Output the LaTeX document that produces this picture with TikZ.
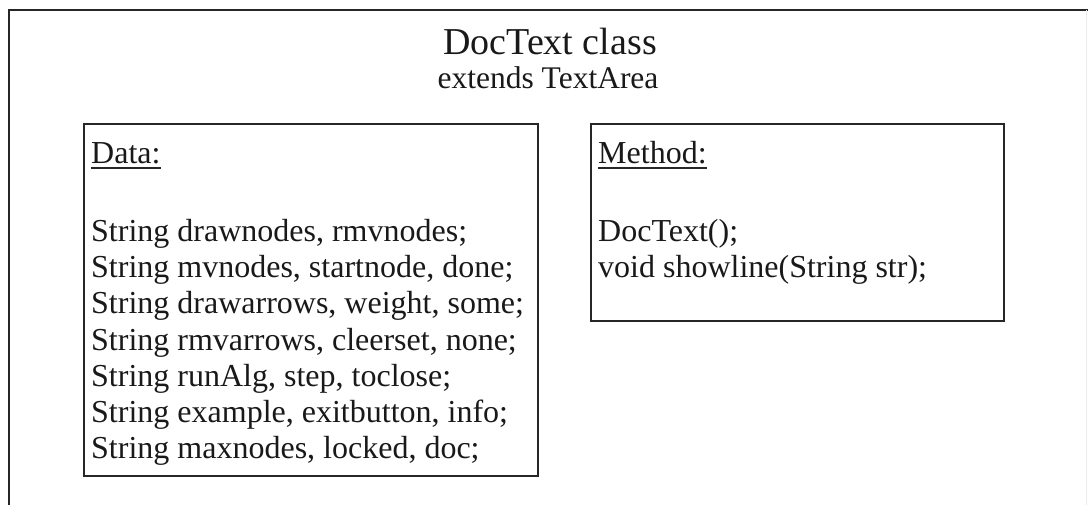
\documentclass[tikz,border=0pt]{standalone}
\usepackage{fontspec}
\setmainfont{Liberation Serif}
\begin{document}
\begin{tikzpicture}[x=1pt,y=-1pt,
  frame/.style={line width=1.6pt, draw=black!85},
  classbox/.style={draw=black!85, line width=1.6pt, rectangle, inner sep=0pt, anchor=north west},
  body/.style={font=\fontsize{32}{36}\selectfont, inner sep=0pt, anchor=base west, text=black!90},
  uline/.style={line width=1.3pt, draw=black!85}]

  % page extent
  \useasboundingbox (0,0) rectangle (1088,505);

  % outer frame of the class (bottom open)
  \draw[frame] (1088,10) -- (9,10) -- (9,505);
  \draw[black!8, line width=0.8pt] (1086.5,10) -- (1086.5,505);

  % heading
  \node[font=\fontsize{38}{40}\selectfont, inner sep=0pt, anchor=base, text=black!90] (title) at (550,55) {DocText class};
  \node[font=\fontsize{31.5}{36}\selectfont, inner sep=0pt, anchor=base, text=black!90] (super) at (548,89) {extends TextArea};

  % data and method compartments
  \node[classbox, minimum width=454pt, minimum height=352pt] (data) at (83,123) {};
  \node[classbox, minimum width=413pt, minimum height=197pt] (method) at (590,123) {};

  % data compartment
  \node[body] (dhead) at (91,164) {Data:};
  \draw[uline] ([yshift=-4pt]dhead.base west) -- ([yshift=-4pt]dhead.base east);
  \foreach \t [count=\i] in {
      {String drawnodes, rmvnodes;},
      {String mvnodes, startnode, done;},
      {String drawarrows, weight, some;},
      {String rmvarrows, cleerset, none;},
      {String runAlg, step, toclose;},
      {String example, exitbutton, info;},
      {String maxnodes, locked, doc;}}
    \node[body] (d\i) at (91,{242+36*(\i-1)}) {\t};

  % method compartment
  \node[body] (mhead) at (598,164) {Method:};
  \draw[uline] ([yshift=-4pt]mhead.base west) -- ([yshift=-4pt]mhead.base east);
  \node[body] (m1) at (598,242) {DocText();};
  \node[body] (m2) at (598,278) {void showline(String str);};
\end{tikzpicture}
\end{document}
